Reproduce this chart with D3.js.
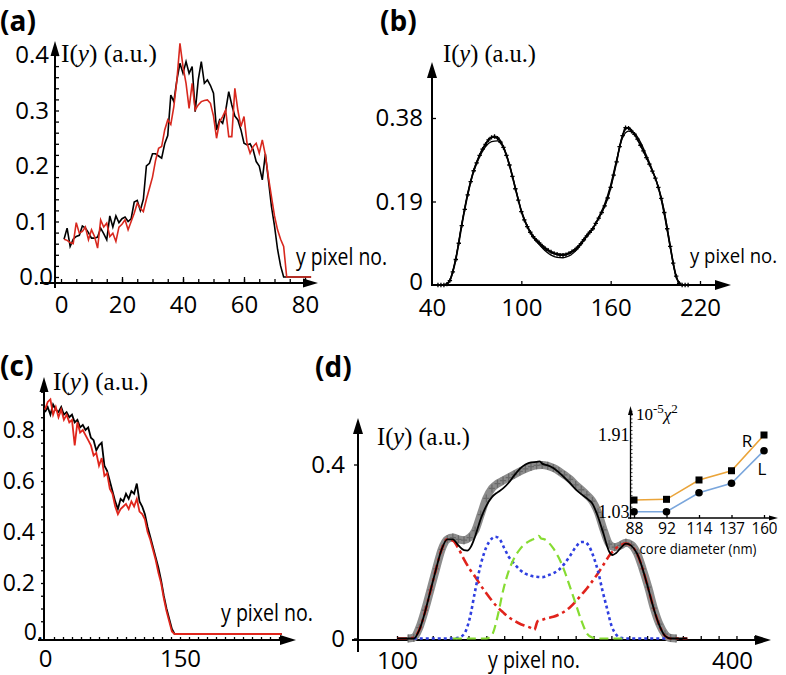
<!DOCTYPE html>
<html><head><meta charset="utf-8">
<script src="https://cdn.jsdelivr.net/npm/d3@7"></script>
<style>body{margin:0;background:#fff}svg{display:block}</style>
</head><body>
<svg id="chart" width="786" height="675"></svg>
<script>
// ---------------- DATA ----------------
// (a) intensity profiles, y pixel 1..82
const aBlack = [0.068,0.088,0.055,0.068,0.073,0.075,0.092,0.088,0.080,0.070,
 0.070,0.072,0.088,0.078,0.067,0.110,0.090,0.110,0.098,0.105,
 0.108,0.100,0.105,0.135,0.138,0.120,0.140,0.200,0.205,0.222,
 0.222,0.218,0.214,0.240,0.255,0.328,0.316,0.355,0.385,0.367,
 0.388,0.367,0.379,0.298,0.355,0.388,0.349,0.355,0.345,0.331,
 0.265,0.283,0.277,0.300,0.334,0.310,0.290,0.283,0.265,0.241,
 0.238,0.240,0.229,0.208,0.200,0.175,0.222,0.175,0.127,0.092,
 0.050,0.020,0,0,0,0,0,0,0,0,0,0];
const aRed = [0.068,0.066,0.062,0.060,0.098,0.079,0.082,0.090,0.067,0.085,
 0.073,0.052,0.103,0.090,0.097,0.073,0.079,0.064,0.090,0.095,
 0.103,0.085,0.100,0.115,0.133,0.124,0.118,0.140,0.160,0.180,
 0.210,0.232,0.235,0.265,0.283,0.275,0.307,0.355,0.421,0.379,
 0.349,0.304,0.349,0.301,0.310,0.316,0.318,0.319,0.313,0.290,
 0.250,0.280,0.289,0.301,0.253,0.253,0.340,0.300,0.271,0.289,
 0.241,0.223,0.235,0.241,0.223,0.247,0.220,0.180,0.145,0.110,
 0.085,0.068,0.055,0,0,0,0,0,0,0,0,0];
const aYTicks = [0, 0.1, 0.2, 0.3, 0.4];
const aXTicks = [0, 20, 40, 60, 80];

// (b) measured profile (markers) and two fits
const bDots = [0,0,0,0.002,0.01,0.03,0.058,0.095,0.135,0.172,0.205,0.235,0.260,0.278,0.295,0.309,0.320,0.330,0.336,0.338,
 0.334,0.325,0.313,0.295,0.273,0.247,0.219,0.193,0.167,0.148,0.133,0.120,0.110,0.102,0.096,0.089,0.083,0.079,0.075,0.072,
 0.070,0.068,0.068,0.069,0.072,0.076,0.080,0.086,0.094,0.103,0.112,0.120,0.128,0.140,0.152,0.165,0.180,0.198,0.222,0.250,
 0.280,0.315,0.340,0.358,0.357,0.350,0.343,0.332,0.318,0.305,0.290,0.275,0.259,0.243,0.222,0.197,0.165,0.128,0.088,0.050,
 0.020,0.004,0,0,0];
const bFit1 = [0,0,0.01,0.06,0.138,0.207,0.258,0.292,0.315,0.326,0.328,0.312,0.272,0.22,0.168,0.132,0.108,0.092,0.078,0.068,
 0.063,0.062,0.066,0.076,0.092,0.11,0.128,0.155,0.185,0.228,0.285,0.335,0.350,0.345,0.325,0.295,0.262,0.222,0.16,0.085,0.018,0,0];
const bFit2 = [0,0,0.012,0.062,0.14,0.21,0.262,0.297,0.322,0.336,0.336,0.315,0.275,0.222,0.17,0.135,0.112,0.097,0.085,0.076,
 0.071,0.070,0.073,0.082,0.096,0.114,0.13,0.152,0.18,0.222,0.282,0.34,0.358,0.343,0.318,0.29,0.26,0.224,0.168,0.09,0.02,0,0];
const bYTicks = [0, 0.19, 0.38];
const bXTicks = [40, 100, 160, 220];

// (c)
const cX = [0,3,6,9,12,15,18,21,24,27,30,33,36,39,42,45,48,51,54,57,60,63,66,69,72,75,78,81,84,87,90,93,96,99,102,105,108,111,114,117,120,123,126,129,132,135,138,141,144,263];
const cBlack = [0.87,0.89,0.86,0.90,0.88,0.87,0.89,0.86,0.87,0.85,0.86,0.83,0.84,0.81,0.82,0.80,0.81,0.77,0.76,0.72,
 0.74,0.75,0.66,0.64,0.60,0.56,0.52,0.49,0.53,0.52,0.55,0.53,0.56,0.55,0.59,0.52,0.50,0.47,0.42,0.38,
 0.34,0.30,0.26,0.21,0.15,0.10,0.06,0.02,0.0,0.0];
const cRed = [0.88,0.91,0.92,0.86,0.89,0.85,0.88,0.84,0.86,0.83,0.84,0.74,0.83,0.79,0.80,0.78,0.76,0.74,0.70,0.71,
 0.66,0.69,0.62,0.63,0.57,0.55,0.50,0.47,0.49,0.50,0.51,0.49,0.52,0.50,0.53,0.48,0.47,0.45,0.40,0.37,
 0.33,0.29,0.24,0.20,0.14,0.09,0.05,0.01,0.0,0.0];
const cYTicks = [0.2, 0.4, 0.6, 0.8];
const cXTicks = [0, 150];

// (d)
const dGreyX = [110,115,120,125,130,135,140,145,150,155,160,165,170,175,180,185,190,195,200,205,210,215,220,225,230,235,240,245,250,255,260,265,270,275,280,285,290,295,300,305,310,315,320,325,330,335,340,345,350];
const dGrey = [0,0.002,0.025,0.065,0.112,0.16,0.205,0.228,0.232,0.228,0.226,0.232,0.248,0.285,0.322,0.345,0.356,0.363,
 0.37,0.377,0.384,0.39,0.395,0.398,0.399,0.397,0.392,0.385,0.376,0.366,0.353,0.342,0.33,0.316,0.29,0.25,0.217,0.21,
 0.214,0.22,0.215,0.196,0.16,0.118,0.07,0.033,0.01,0.001,0];
const dFitX = [100,110,115,120,125,130,135,140,145,150,155,160,163,166,170,175,180,185,190,195,200,205,210,215,220,225,228,230,235,240,245,250,255,260,265,270,275,280,285,290,293,296,300,305,310,315,320,325,330,335,340,345,360];
const dFit = [0,0,0,0.02,0.06,0.11,0.16,0.205,0.228,0.228,0.214,0.203,0.202,0.21,0.235,0.275,0.305,0.325,0.336,0.345,
 0.358,0.375,0.39,0.4,0.405,0.406,0.407,0.402,0.398,0.392,0.382,0.37,0.357,0.343,0.332,0.322,0.31,0.28,0.24,0.2,
 0.192,0.196,0.207,0.218,0.213,0.195,0.16,0.115,0.068,0.03,0.006,0,0];
const dCoreX = [100,110,115,120,125,130,135,140,145,150,155,160,165,170,175,180,185,190,195,200,205,210,215,220,222,223,226,230,235,240,245,250,255,260,265,270,275,280,285,290,295,300,305,310,315,320,325,330,335,340,345,360];
const dCore = [0,0,0.002,0.02,0.06,0.11,0.16,0.205,0.228,0.225,0.207,0.182,0.16,0.142,0.122,0.104,0.087,0.072,0.06,0.049,
 0.041,0.034,0.029,0.024,0.021,0.02,0.04,0.043,0.047,0.05,0.055,0.062,0.072,0.085,0.1,0.115,0.132,0.15,0.17,0.19,
 0.205,0.214,0.218,0.213,0.195,0.16,0.115,0.068,0.03,0.006,0,0];
const dShellX = [115,135,150,155,160,165,170,175,180,185,188,192,196,200,205,210,215,220,225,230,235,240,245,250,255,260,265,268,272,276,280,284,288,292,296,300,305,342];
const dShell = [0,0,0,0.002,0.01,0.045,0.11,0.17,0.21,0.23,0.234,0.228,0.208,0.188,0.172,0.158,0.149,0.144,0.142,0.141,
 0.145,0.15,0.158,0.172,0.19,0.21,0.222,0.222,0.212,0.188,0.155,0.11,0.07,0.03,0.01,0.002,0,0];
const dCladX = [150,180,185,190,195,200,205,210,215,220,225,227,229,232,236,240,245,250,255,260,265,270,275,280,305];
const dClad = [0,0,0.008,0.05,0.11,0.155,0.185,0.205,0.218,0.226,0.232,0.236,0.23,0.228,0.22,0.207,0.185,0.155,0.118,0.08,0.042,0.012,0.002,0,0];
const dYTicks = [0, 0.4];
const dXLabels = [100, 400];

// (d) inset
const insetCats = ["88","92","114","137","160"];
const insetR = [1.164,1.172,1.394,1.50,1.91];
const insetL = [1.03,1.03,1.248,1.356,1.73];
const insetYTicks = [1.03, 1.91];

// ---------------- DRAW ----------------
const svg = d3.select("#chart");
const SANS = "'Open Sans', 'DejaVu Sans', sans-serif";
const SERIF = "'Liberation Serif', 'DejaVu Serif', serif";

function arrowUp(x, y, w = 9, h = 15) {
  svg.append("path").attr("d", `M${x},${y} L${x - w / 2},${y + h} L${x + w / 2},${y + h} Z`).attr("fill", "#000");
}
function arrowRight(x, y, w = 9, h = 15) {
  svg.append("path").attr("d", `M${x},${y} L${x - h},${y - w / 2} L${x - h},${y + w / 2} Z`).attr("fill", "#000");
}
function vline(x, y1, y2, sw = 2) {
  svg.append("line").attr("x1", x).attr("x2", x).attr("y1", y1).attr("y2", y2).attr("stroke", "#000").attr("stroke-width", sw);
}
function hline(y, x1, x2, sw = 2) {
  svg.append("line").attr("x1", x1).attr("x2", x2).attr("y1", y).attr("y2", y).attr("stroke", "#000").attr("stroke-width", sw);
}
function styleAxis(g, size, family) {
  g.select(".domain").remove();
  g.selectAll("line").attr("stroke", "#000").attr("stroke-width", 1.3);
  g.selectAll("text").attr("font-size", size).attr("font-family", family || SANS).attr("fill", "#000");
  g.attr("font-size", null).attr("font-family", null);
}
function panelLetter(t, x, y) {
  svg.append("text").attr("x", x).attr("y", y).text(t)
    .attr("font-family", SANS).attr("font-weight", "bold").attr("font-size", 28);
}
function iyLabel(x, y, len) {
  const t = svg.append("text").attr("x", x).attr("y", y).attr("font-family", SERIF).attr("font-size", 25)
    .attr("textLength", len).attr("lengthAdjust", "spacingAndGlyphs");
  t.append("tspan").text("I(");
  t.append("tspan").attr("font-style", "italic").text("y");
  t.append("tspan").text(") (a.u.)");
}
function xTitle(x, y, len, fs = 23) {
  svg.append("text").attr("x", x).attr("y", y).text("y pixel no.")
    .attr("font-family", SANS).attr("font-size", fs)
    .attr("textLength", len).attr("lengthAdjust", "spacingAndGlyphs");
}

// ===== Panel (a) =====
{
  const x = d3.scaleLinear().domain([0, 80]).range([61, 305]);
  const y = d3.scaleLinear().domain([0, 0.4]).range([277, 55]);
  const ax = 55, ay = 283;
  const gyMin = svg.append("g").attr("transform", `translate(${ax},0)`)
    .call(d3.axisRight(y).ticks(20).tickSize(4).tickFormat(""));
  styleAxis(gyMin, 0);
  const gy = svg.append("g").attr("transform", `translate(${ax},0)`)
    .call(d3.axisLeft(y).tickValues(aYTicks).tickSize(0).tickPadding(6).tickFormat(d3.format(".1f")));
  styleAxis(gy, 24);
  gy.selectAll(".tick").filter(d => d === 0).select("text").attr("dx", 4);
  const gxMin = svg.append("g").attr("transform", `translate(0,${ay})`)
    .call(d3.axisTop(x).ticks(16).tickSize(4).tickFormat(""));
  styleAxis(gxMin, 0);
  const gxMaj = svg.append("g").attr("transform", `translate(0,${ay})`)
    .call(d3.axisTop(x).tickValues(aXTicks.slice(1)).tickSize(6).tickFormat(""));
  styleAxis(gxMaj, 0);
  const gx = svg.append("g").attr("transform", `translate(0,${ay})`)
    .call(d3.axisBottom(x).tickValues(aXTicks).tickSize(0).tickPadding(13));
  styleAxis(gx, 24);
  vline(ax, 288, 50); arrowUp(ax, 41);
  hline(ay, 40, 305); arrowRight(318, ay);
  const line = d3.line().x((d, i) => x(i + 1)).y(d => y(d));
  svg.append("path").datum(aBlack).attr("d", line).attr("fill", "none").attr("stroke", "#000").attr("stroke-width", 1.6);
  svg.append("path").datum(aRed).attr("d", line).attr("fill", "none").attr("stroke", "#d8281e").attr("stroke-width", 1.6);
  panelLetter("(a)", 0, 31);
  iyLabel(61, 62, 96);
  xTitle(296, 265, 91);
}

// ===== Panel (b) =====
{
  const x = d3.scaleLinear().domain([40, 220]).range([432, 700]);
  const y = d3.scaleLinear().domain([0, 0.38]).range([285, 118]);
  const ax = 432, ay = 285;
  const gy = svg.append("g").attr("transform", `translate(${ax},0)`)
    .call(d3.axisLeft(y).tickValues(bYTicks).tickSize(0).tickPadding(9).tickFormat(d => d === 0 ? "0" : d3.format(".2f")(d)));
  styleAxis(gy, 24);
  gy.selectAll(".tick").filter(d => d === 0).select("text").attr("dy", "0.2em");
  const gyT = svg.append("g").attr("transform", `translate(${ax},0)`)
    .call(d3.axisRight(y).tickValues(bYTicks.slice(1)).tickSize(4).tickFormat(""));
  styleAxis(gyT, 0);
  const gxT = svg.append("g").attr("transform", `translate(0,${ay})`)
    .call(d3.axisTop(x).tickValues(bXTicks.slice(1)).tickSize(4).tickFormat(""));
  styleAxis(gxT, 0);
  const gx = svg.append("g").attr("transform", `translate(0,${ay})`)
    .call(d3.axisBottom(x).tickValues(bXTicks).tickSize(0).tickPadding(14));
  styleAxis(gx, 24);
  vline(ax, 286, 70); arrowUp(ax, 62, 10, 16);
  hline(ay, ax, 716); arrowRight(731, ay, 10, 16);
  const bX = d3.range(44, 213, 2);
  const bXf = d3.range(44, 213, 4);
  const lineF = d3.line().curve(d3.curveMonotoneX).x((d, i) => x(bXf[i])).y(d => y(d));
  [bFit1, bFit2].forEach(f => svg.append("path").datum(f).attr("d", lineF).attr("fill", "none").attr("stroke", "#000").attr("stroke-width", 1.3));
  const lineD = d3.line().curve(d3.curveMonotoneX).x((d, i) => x(bX[i])).y(d => y(d));
  svg.append("path").datum(bDots).attr("d", lineD).attr("fill", "none").attr("stroke", "#000").attr("stroke-width", 1.6);
  svg.append("g").selectAll("path").data(bDots).join("path")
    .attr("d", (d, i) => { const px = x(bX[i]), py = y(d); return `M${px - 2.2},${py} H${px + 2.2} M${px},${py - 2.2} V${py + 2.2}`; })
    .attr("stroke", "#000").attr("stroke-width", 1.3);
  panelLetter("(b)", 380, 31);
  iyLabel(443, 62, 93);
  xTitle(690, 263, 87, 20);
}

// ===== Panel (c) =====
{
  const x = d3.scaleLinear().domain([0, 150]).range([45, 180]);
  const y = d3.scaleLinear().domain([0, 0.8]).range([634, 430]);
  const ax = 44, ay = 640;
  const gyMin = svg.append("g").attr("transform", `translate(${ax},0)`)
    .call(d3.axisLeft(y).tickValues(d3.range(0.05, 0.96, 0.05)).tickSize(3).tickFormat(""));
  styleAxis(gyMin, 0);
  const gy = svg.append("g").attr("transform", `translate(${ax},0)`)
    .call(d3.axisLeft(y).tickValues(cYTicks).tickSize(0).tickPadding(9).tickFormat(d3.format(".1f")));
  styleAxis(gy, 23);
  svg.append("text").attr("x", 43).attr("y", y(0) + 6).attr("text-anchor", "end").text("0.")
    .attr("font-family", SANS).attr("font-size", 23);
  const gxMin = svg.append("g").attr("transform", `translate(0,${ay})`)
    .call(d3.axisTop(x).tickValues(d3.range(10, 261, 10)).tickSize(3).tickFormat(""));
  styleAxis(gxMin, 0);
  const gx = svg.append("g").attr("transform", `translate(0,${ay})`)
    .call(d3.axisBottom(x).tickValues(cXTicks).tickSize(0).tickPadding(10));
  styleAxis(gx, 24);
  vline(ax, 641, 386); arrowUp(ax, 377, 9, 15);
  hline(ay, 38, 280); arrowRight(296, ay, 10, 16);
  const line = d3.line().x((d, i) => x(cX[i])).y(d => y(d));
  svg.append("path").datum(cBlack).attr("d", line).attr("fill", "none").attr("stroke", "#000").attr("stroke-width", 1.8);
  svg.append("path").datum(cRed).attr("d", line).attr("fill", "none").attr("stroke", "#e0261c").attr("stroke-width", 1.8);
  panelLetter("(c)", 0, 376);
  iyLabel(53, 390, 95);
  xTitle(221, 621, 92);
}

// ===== Panel (d) =====
{
  const x = d3.scaleLinear().domain([100, 400]).range([397, 732]);
  const y = d3.scaleLinear().domain([0, 0.4]).range([638.5, 464.5]);
  const ax = 358, ay = 640;
  const gy = svg.append("g").attr("transform", `translate(${ax},0)`)
    .call(d3.axisLeft(y).tickValues(dYTicks).tickSize(4).tickPadding(9).tickFormat(d => d === 0 ? "0" : d3.format(".1f")(d)));
  styleAxis(gy, 24);
  const gxMin = svg.append("g").attr("transform", `translate(0,${ay})`)
    .call(d3.axisTop(x).tickValues(d3.range(100, 421, 16)).tickSize(4).tickFormat(""));
  styleAxis(gxMin, 0);
  const gx = svg.append("g").attr("transform", `translate(0,${ay})`)
    .call(d3.axisBottom(x).tickValues(dXLabels).tickSize(0).tickPadding(12));
  styleAxis(gx, 24);
  vline(ax, 652, 428); arrowUp(ax, 418, 10, 16);
  hline(ay, 352, 756); arrowRight(771, ay, 10, 16);

  const smooth = (xs) => d3.line().curve(d3.curveMonotoneX).x((d, i) => x(xs[i])).y(d => y(d));
  svg.append("path").datum(dGrey).attr("d", smooth(dGreyX)).attr("fill", "none").attr("stroke", "#8c8c8c").attr("stroke-width", 8);
  svg.append("g").selectAll("path").data(dGrey).join("path")
    .attr("d", (d, i) => { const px = x(dGreyX[i]), py = y(d); return `M${px - 3},${py} H${px + 3} M${px},${py - 4} V${py + 4}`; })
    .attr("stroke", "#6a6a6a").attr("stroke-width", 1.3);
  svg.append("path").datum(dCore).attr("d", smooth(dCoreX)).attr("fill", "none").attr("stroke", "#e0231c").attr("stroke-width", 2.6)
    .attr("stroke-dasharray", "10,4,3,4");
  svg.append("path").datum(dShell).attr("d", smooth(dShellX)).attr("fill", "none").attr("stroke", "#2f3fe0").attr("stroke-width", 2.6)
    .attr("stroke-dasharray", "3,3");
  svg.append("path").datum(dClad).attr("d", smooth(dCladX)).attr("fill", "none").attr("stroke", "#86dc32").attr("stroke-width", 2.2)
    .attr("stroke-dasharray", "9,5");
  svg.append("path").datum(dFit).attr("d", smooth(dFitX)).attr("fill", "none").attr("stroke", "#000").attr("stroke-width", 1.8);

  panelLetter("(d)", 315, 377);
  iyLabel(377, 445, 93);
  xTitle(488, 668, 92);

  // inset
  const xi = d3.scalePoint().domain(insetCats).range([634, 764]);
  const yi = d3.scaleLinear().domain([1.03, 1.91]).range([511.7, 435]);
  const iax = 630.5, iay = 518;
  const giMin = svg.append("g").attr("transform", `translate(${iax},0)`)
    .call(d3.axisRight(yi).tickValues(d3.range(1.0, 2.2, 0.044)).tickSize(2).tickFormat(""));
  styleAxis(giMin, 0);
  giMin.selectAll("line").attr("stroke-width", 0.8);
  const giy = svg.append("g").attr("transform", `translate(${iax},0)`)
    .call(d3.axisLeft(yi).tickValues(insetYTicks).tickSize(0).tickPadding(1).tickFormat(d3.format(".2f")));
  styleAxis(giy, 18, SERIF);
  const gix = svg.append("g").attr("transform", `translate(0,${iay})`)
    .call(d3.axisBottom(xi).tickSize(0).tickPadding(4));
  styleAxis(gix, 17);
  gix.selectAll("text").attr("textLength", d => d.length === 3 ? 26 : 18).attr("lengthAdjust", "spacingAndGlyphs");
  const gixT = svg.append("g").attr("transform", `translate(0,${iay})`)
    .call(d3.axisTop(xi).tickSize(3).tickFormat(""));
  styleAxis(gixT, 0);
  vline(iax, 519, 412, 1.3); arrowUp(iax, 406, 5, 9);
  hline(iay, 628, 770, 1.3); arrowRight(778, iay, 5, 9);
  const li = (vals) => d3.line().x((d, i) => xi(insetCats[i])).y(d => yi(d))(vals);
  svg.append("path").attr("d", li(insetR)).attr("fill", "none").attr("stroke", "#eaa43a").attr("stroke-width", 1.6);
  svg.append("path").attr("d", li(insetL)).attr("fill", "none").attr("stroke", "#7aa6dc").attr("stroke-width", 1.6);
  svg.append("g").selectAll("rect").data(insetR).join("rect")
    .attr("x", (d, i) => xi(insetCats[i]) - 3.5).attr("y", d => yi(d) - 3.5).attr("width", 7).attr("height", 7).attr("fill", "#000");
  svg.append("g").selectAll("circle").data(insetL).join("circle")
    .attr("cx", (d, i) => xi(insetCats[i])).attr("cy", d => yi(d)).attr("r", 3.8).attr("fill", "#000");
  svg.append("text").attr("x", 747).attr("y", 447).attr("text-anchor", "middle").text("R").attr("font-family", SANS).attr("font-size", 17);
  svg.append("text").attr("x", 762).attr("y", 475).attr("text-anchor", "middle").text("L").attr("font-family", SANS).attr("font-size", 17);
  svg.append("text").attr("x", 698).attr("y", 554).attr("text-anchor", "middle").text("core diameter (nm)")
    .attr("font-family", SANS).attr("font-size", 14).attr("textLength", 117).attr("lengthAdjust", "spacingAndGlyphs");
  const ylab = svg.append("text").attr("x", 636).attr("y", 420).attr("font-family", SERIF).attr("font-size", 17);
  ylab.append("tspan").text("10");
  ylab.append("tspan").attr("dy", -7).attr("font-size", 13).text("-5");
  ylab.append("tspan").attr("dy", 7).attr("font-style", "italic").text("\u03c7");
  ylab.append("tspan").attr("dy", -7).attr("font-size", 13).text("2");
}
</script>
</body></html>
